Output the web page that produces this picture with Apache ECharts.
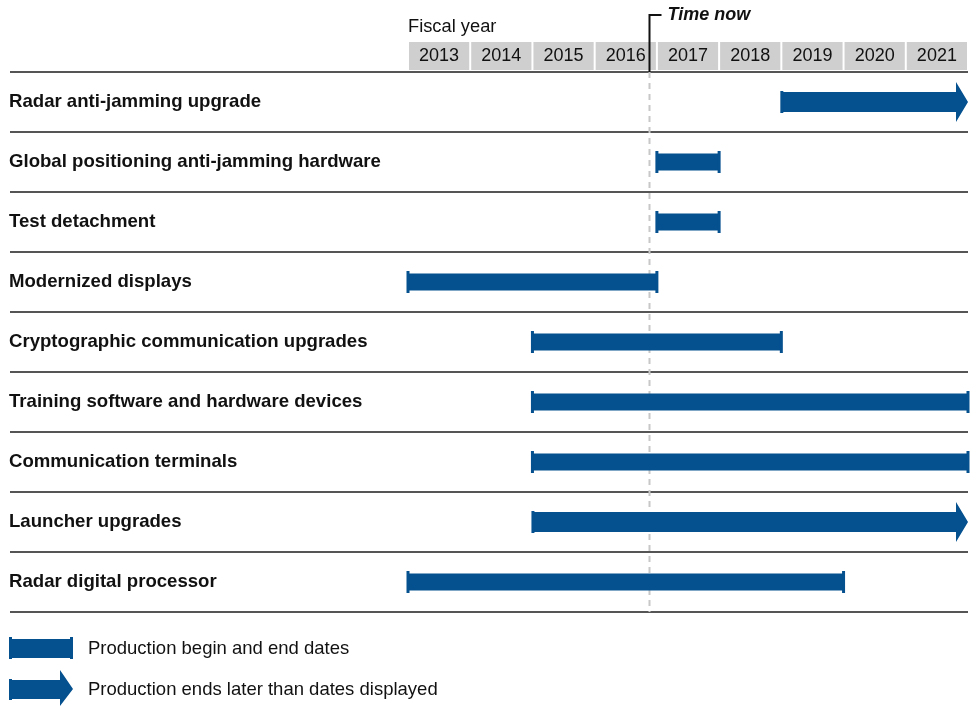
<!DOCTYPE html>
<html>
<head>
<meta charset="utf-8">
<script src="https://cdn.jsdelivr.net/npm/echarts@6/dist/echarts.min.js"></script>
<style>
html,body{margin:0;padding:0;background:#fff;}
#chart{width:980px;height:706px;}
</style>
</head>
<body>
<div id="chart"></div>
<script>
var categories = [
  'Radar anti-jamming upgrade',
  'Global positioning anti-jamming hardware',
  'Test detachment',
  'Modernized displays',
  'Cryptographic communication upgrades',
  'Training software and hardware devices',
  'Communication terminals',
  'Launcher upgrades',
  'Radar digital processor'
];
var startYears = [2019, 2017, 2017, 2013, 2015, 2015, 2015, 2015, 2013];
var endYears   = [2022, 2018, 2018, 2017, 2019, 2022, 2022, 2022, 2020];
var continuesLater = [true, false, false, false, false, false, false, true, false];
var years = [2013, 2014, 2015, 2016, 2017, 2018, 2019, 2020, 2021];
var timeNow = 2016.87;
var legendLabels = ['Production begin and end dates', 'Production ends later than dates displayed'];

var FONT = "'Liberation Sans', Arial, Helvetica, sans-serif";
var BLUE = '#05508f';

var chart = echarts.init(document.getElementById('chart'), null, {renderer: 'canvas'});

var barData = categories.map(function (c, i) {
  return [i, startYears[i], endYears[i], continuesLater[i] ? 1 : 0];
});

var option = {
  animation: false,
  backgroundColor: '#fff',
  grid: {left: 408, right: 12, top: 72, bottom: 94, containLabel: false},
  xAxis: {
    type: 'value', min: 2013, max: 2022,
    axisLine: {show: false}, axisTick: {show: false},
    axisLabel: {show: false}, splitLine: {show: false}
  },
  yAxis: {
    type: 'category', inverse: true, data: categories,
    axisLine: {show: false}, axisTick: {show: false}, splitLine: {show: false},
    axisLabel: {
      align: 'left', margin: 399, fontSize: 18.6, fontWeight: 'bold',
      color: '#111', fontFamily: FONT
    }
  },
  series: [
    {
      // Fiscal year header cells
      type: 'custom', clip: false, silent: true,
      data: years.map(function (y) { return [y]; }),
      renderItem: function (params, api) {
        var y = api.value(0);
        var x0 = api.coord([y, 0])[0];
        var x1 = api.coord([y + 1, 0])[0];
        var top = params.coordSys.y;
        var children = [
          {type: 'rect', shape: {x: x0 + 1, y: top - 30, width: x1 - x0 - 2, height: 28},
           style: {fill: '#cfcfcf'}},
          {type: 'text', style: {text: String(y), x: (x0 + x1) / 2, y: top - 16,
            align: 'center', verticalAlign: 'middle', fontSize: 18, fontFamily: FONT, fill: '#111'}}
        ];
        if (params.dataIndex === 0) {
          children.push({type: 'text', style: {text: 'Fiscal year', x: x0, y: top - 45,
            align: 'left', verticalAlign: 'middle', fontSize: 18.3, fontFamily: FONT, fill: '#111'}});
        }
        return {type: 'group', children: children};
      }
    },
    {
      // Row separator lines
      type: 'custom', clip: false, silent: true,
      data: categories.map(function (c, i) { return [0, i]; }),
      renderItem: function (params, api) {
        var c = api.coord([2013, api.value(1)]);
        var h = api.size([0, 1])[1];
        var right = params.coordSys.x + params.coordSys.width;
        var children = [
          {type: 'line', shape: {x1: 10, y1: c[1] + h / 2, x2: right, y2: c[1] + h / 2},
           style: {stroke: '#555', lineWidth: 2}}
        ];
        if (params.dataIndex === 0) {
          children.push({type: 'line', shape: {x1: 10, y1: c[1] - h / 2, x2: right, y2: c[1] - h / 2},
           style: {stroke: '#555', lineWidth: 2}});
        }
        return {type: 'group', children: children};
      }
    },
    {
      // Time now dashed line
      type: 'custom', clip: false, silent: true, z: 3,
      data: [[timeNow]],
      renderItem: function (params, api) {
        var x = Math.round(api.coord([api.value(0), 0])[0]) + 0.5;
        var top = params.coordSys.y;
        var bottom = top + params.coordSys.height;
        return {type: 'group', children: [
          {type: 'line', shape: {x1: x, y1: top, x2: x, y2: bottom},
           style: {stroke: '#c8c8c8', lineWidth: 2, lineDash: [6, 5]}, z2: 1},
          {type: 'polyline', shape: {points: [[x, top], [x, 15], [x + 12, 15]]},
           style: {stroke: '#111', lineWidth: 2, fill: null}},
          {type: 'text', style: {text: 'Time now', x: x + 18, y: 15, align: 'left',
            verticalAlign: 'middle', fontSize: 18, fontWeight: 'bold', fontStyle: 'italic',
            fontFamily: FONT, fill: '#111'}}
        ]};
      }
    },
    {
      // Production bars
      type: 'custom', clip: false, silent: true, z: 4,
      encode: {x: [1, 2], y: 0},
      data: barData,
      renderItem: function (params, api) {
        var row = api.value(0);
        var p0 = api.coord([api.value(1), row]);
        var p1 = api.coord([api.value(2), row]);
        var cy = p0[1];
        var x0 = p0[0], x1 = p1[0];
        var arrow = api.value(3) === 1;
        var children = [];
        if (arrow) {
          var hb = 10, hh = 20, hl = 12;
          children.push({type: 'polygon', shape: {points: [
            [x0, cy - hb], [x1 - hl, cy - hb], [x1 - hl, cy - hh], [x1, cy],
            [x1 - hl, cy + hh], [x1 - hl, cy + hb], [x0, cy + hb]
          ]}, style: {fill: BLUE}});
          children.push({type: 'rect', shape: {x: x0 - 1, y: cy - 11, width: 3, height: 22},
            style: {fill: BLUE}});
        } else {
          children.push({type: 'rect', shape: {x: x0, y: cy - 8.5, width: x1 - x0, height: 17},
            style: {fill: BLUE}});
          children.push({type: 'rect', shape: {x: x0 - 1.5, y: cy - 11, width: 3, height: 22},
            style: {fill: BLUE}});
          children.push({type: 'rect', shape: {x: x1 - 1.5, y: cy - 11, width: 3, height: 22},
            style: {fill: BLUE}});
        }
        return {type: 'group', children: children};
      }
    }
  ],
  graphic: [
    {type: 'rect', shape: {x: 10, y: 639, width: 62, height: 19}, style: {fill: BLUE}},
    {type: 'rect', shape: {x: 9, y: 637, width: 3, height: 22}, style: {fill: BLUE}},
    {type: 'rect', shape: {x: 70, y: 637, width: 3, height: 22}, style: {fill: BLUE}},
    {type: 'polygon', shape: {points: [[10, 680], [60, 680], [60, 670], [73, 689], [60, 706], [60, 699], [10, 699]]},
     style: {fill: BLUE}},
    {type: 'rect', shape: {x: 9, y: 679, width: 3, height: 21}, style: {fill: BLUE}},
    {type: 'text', style: {text: legendLabels[0], x: 88, y: 649, verticalAlign: 'middle',
      fontSize: 18.5, fontFamily: FONT, fill: '#111'}},
    {type: 'text', style: {text: legendLabels[1], x: 88, y: 690, verticalAlign: 'middle',
      fontSize: 18.5, fontFamily: FONT, fill: '#111'}}
  ]
};
chart.setOption(option);
</script>
</body>
</html>
